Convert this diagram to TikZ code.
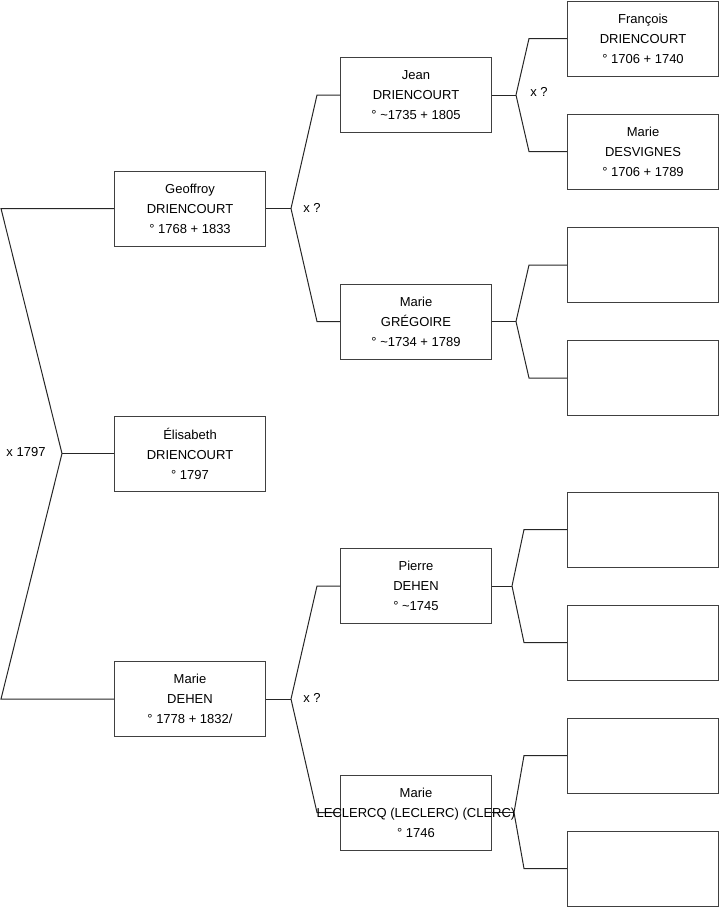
\documentclass[tikz,border=0pt]{standalone}
\usepackage{fontspec}
\setmainfont{Liberation Sans}
\usetikzlibrary{calc}
\begin{document}
\begin{tikzpicture}[x=1pt,y=-1pt,
  person/.style={draw=black!75,line width=1pt,fill=white,minimum width=151pt,minimum height=75pt,inner sep=0pt,align=center,font=\fontsize{13}{20}\selectfont},
  conn/.style={draw=black!85,line width=1pt},
  lbl/.style={font=\fontsize{13}{16}\selectfont,inner sep=0pt}]
\useasboundingbox (0,0) rectangle (719,908);
% generation 1
\node[person] (geof) at (190,208.5) {Geoffroy\\DRIENCOURT\\° 1768 + 1833};
\node[person] (eli) at (190,453.5) {Élisabeth\\DRIENCOURT\\° 1797};
\node[person] (dehen) at (190,699) {Marie\\DEHEN\\° 1778 + 1832/};
% generation 2
\node[person] (jean) at (416,95) {Jean\\DRIENCOURT\\° \textasciitilde1735 + 1805};
\node[person] (greg) at (416,321.5) {Marie\\GRÉGOIRE\\° \textasciitilde1734 + 1789};
\node[person] (pierre) at (416,586) {Pierre\\DEHEN\\° \textasciitilde1745};
\node[person] (lecl) at (416,812.5) {};
% generation 3
\node[person] (fran) at (643,38.5) {François\\DRIENCOURT\\° 1706 + 1740};
\node[person] (desv) at (643,151.5) {Marie\\DESVIGNES\\° 1706 + 1789};
\node[person] (e1) at (643,265) {};
\node[person] (e2) at (643,378) {};
\node[person] (e3) at (643,529.5) {};
\node[person] (e4) at (643,642.5) {};
\node[person] (e5) at (643,755.5) {};
\node[person] (e6) at (643,868.5) {};
% main fork
\draw[conn] (eli.west) -- ++(-52,0) coordinate (m0);
\draw[conn] (m0) -- ($(geof.west)+(-113,0)$) -- (geof.west);
\draw[conn] (m0) -- ($(dehen.west)+(-113,0)$) -- (dehen.west);
\node[lbl] (l0) at (26,452) {x 1797};
% Geoffroy fork
\draw[conn] (geof.east) -- ++(25,0) coordinate (f1);
\draw[conn] (f1) -- ($(jean.west)+(-23,0)$) -- (jean.west);
\draw[conn] (f1) -- ($(greg.west)+(-23,0)$) -- (greg.west);
\node[lbl] (l1) at (312,208) {x ?};
% Dehen fork
\draw[conn] (dehen.east) -- ++(25,0) coordinate (f2);
\draw[conn] (f2) -- ($(pierre.west)+(-23,0)$) -- (pierre.west);
\draw[conn] (f2) -- ($(lecl.west)+(-23,0)$) -- (lecl.west);
\node[lbl] (l2) at (312,698) {x ?};
% Jean fork
\draw[conn] (jean.east) -- ++(24,0) coordinate (f3);
\draw[conn] (f3) -- ($(fran.west)+(-38,0)$) -- (fran.west);
\draw[conn] (f3) -- ($(desv.west)+(-38,0)$) -- (desv.west);
\node[lbl] (l3) at (539,92) {x ?};
% Gregoire fork
\draw[conn] (greg.east) -- ++(24,0) coordinate (f4);
\draw[conn] (f4) -- ($(e1.west)+(-38,0)$) -- (e1.west);
\draw[conn] (f4) -- ($(e2.west)+(-38,0)$) -- (e2.west);
% Pierre fork
\draw[conn] (pierre.east) -- ++(20,0) coordinate (f5);
\draw[conn] (f5) -- ($(e3.west)+(-43,0)$) -- (e3.west);
\draw[conn] (f5) -- ($(e4.west)+(-43,0)$) -- (e4.west);
% Leclercq fork
\draw[conn] (lecl.east) -- ++(22,0) coordinate (f6);
\draw[conn] (f6) -- ($(e5.west)+(-43,0)$) -- (e5.west);
\draw[conn] (f6) -- ($(e6.west)+(-43,0)$) -- (e6.west);
% Leclercq text overflowing its box
\node[font=\fontsize{13}{20}\selectfont,align=center,inner sep=0pt] (lecltxt) at (lecl.center) {Marie\\LECLERCQ (LECLERC) (CLERC)\\° 1746};
\end{tikzpicture}
\end{document}
